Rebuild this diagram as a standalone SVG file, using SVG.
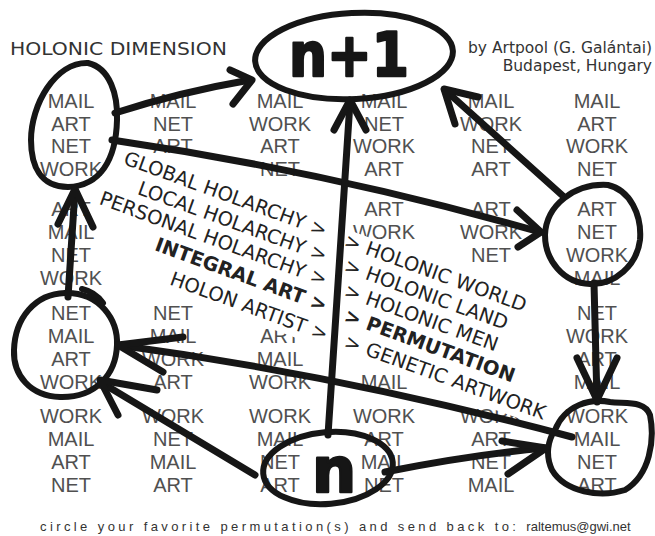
<svg xmlns="http://www.w3.org/2000/svg" width="655" height="536" viewBox="0 0 655 536">
<style>
.w{font-family:"Liberation Sans",Arial,sans-serif;font-size:20px;fill:#505050;text-anchor:middle}
.s{font-family:"DejaVu Sans",Verdana,sans-serif;font-size:19.5px;fill:#222}
.b{font-weight:bold}
.m{fill:#fff}
.hd{font-family:"DejaVu Sans",Verdana,sans-serif;fill:#333}
.ink{fill:none;stroke:#161616;stroke-linecap:round;stroke-linejoin:round}
.node{stroke-width:6}
.con{stroke-width:7}
.hand{font-family:"DejaVu Sans",sans-serif;font-weight:bold;fill:#161616;stroke:#161616;stroke-width:2.5;stroke-linejoin:round;text-anchor:middle}
</style>
<rect width="655" height="536" fill="#fff"/>

<g id="headings">
<text class="hd" x="10" y="55" font-size="18" textLength="217" lengthAdjust="spacingAndGlyphs">HOLONIC DIMENSION</text>
<text class="hd" x="652" y="53" font-size="15.5" text-anchor="end">by Artpool (G. Galántai)</text>
<text class="hd" x="652" y="71" font-size="15.5" text-anchor="end">Budapest, Hungary</text>
<text x="40" y="531" font-family="Liberation Sans, Arial, sans-serif" font-size="13" fill="#333"><tspan letter-spacing="3.4">circle your favorite permutation(s) and send back to: </tspan><tspan letter-spacing="0">raltemus@gwi.net</tspan></text>
</g>

<g id="word-grid" class="w">
<text x="71" y="108">MAIL</text><text x="71" y="130.5">ART</text><text x="71" y="153">NET</text><text x="71" y="175.5">WORK</text>
<text x="71" y="216">ART</text><text x="71" y="239">MAIL</text><text x="71" y="262">NET</text><text x="71" y="285">WORK</text>
<text x="71" y="320">NET</text><text x="71" y="343">MAIL</text><text x="71" y="366">ART</text><text x="71" y="389">WORK</text>
<text x="71" y="423">WORK</text><text x="71" y="446">MAIL</text><text x="71" y="469">ART</text><text x="71" y="492">NET</text>

<text x="173" y="108">MAIL</text><text x="173" y="130.5">NET</text><text x="173" y="153">ART</text>
<text x="173" y="320">NET</text><text x="173" y="343">MAIL</text><text x="173" y="366">WORK</text><text x="173" y="389">ART</text>
<text x="173" y="423">WORK</text><text x="173" y="446">NET</text><text x="173" y="469">MAIL</text><text x="173" y="492">ART</text>

<text x="280" y="108">MAIL</text><text x="280" y="130.5">WORK</text><text x="280" y="153">ART</text><text x="280" y="175.5">NET</text>
<text x="280" y="343">ART</text><text x="280" y="366">MAIL</text><text x="280" y="389">WORK</text>
<text x="280" y="423">WORK</text><text x="280" y="446">MAIL</text><text x="280" y="469">NET</text><text x="280" y="492">ART</text>

<text x="384" y="108">MAIL</text><text x="384" y="130.5">NET</text><text x="384" y="153">WORK</text><text x="384" y="175.5">ART</text>
<text x="384" y="216">ART</text><text x="384" y="239">WORK</text>
<text x="384" y="389">MAIL</text>
<text x="384" y="423">WORK</text><text x="384" y="446">ART</text><text x="384" y="469">MAIL</text><text x="384" y="492">NET</text>

<text x="491" y="108">MAIL</text><text x="491" y="130.5">WORK</text><text x="491" y="153">NET</text><text x="491" y="175.5">ART</text>
<text x="491" y="216">ART</text><text x="491" y="239">WORK</text><text x="491" y="262">NET</text>
<text x="491" y="423">WORK</text><text x="491" y="446">ART</text><text x="491" y="469">NET</text><text x="491" y="492">MAIL</text>

<text x="597" y="108">MAIL</text><text x="597" y="130.5">ART</text><text x="597" y="153">WORK</text><text x="597" y="175.5">NET</text>
<text x="597" y="216">ART</text><text x="597" y="239">NET</text><text x="597" y="262">WORK</text><text x="597" y="285">MAIL</text>
<text x="597" y="320">NET</text><text x="597" y="343">WORK</text><text x="597" y="366">ART</text><text x="597" y="389">MAIL</text>
<text x="597" y="423">WORK</text><text x="597" y="446">MAIL</text><text x="597" y="469">NET</text><text x="597" y="492">ART</text>
</g>

<g id="holarchy-list">
<g transform="translate(324,237) rotate(20)"><rect class="m" x="-222" y="-17" width="228" height="24"/><text class="s" text-anchor="end">GLOBAL HOLARCHY &gt;</text></g>
<g transform="translate(324,262) rotate(20)"><rect class="m" x="-207" y="-17" width="213" height="24"/><text class="s" text-anchor="end">LOCAL HOLARCHY &gt;</text></g>
<g transform="translate(324,286) rotate(20)"><rect class="m" x="-247" y="-17" width="253" height="24"/><text class="s" text-anchor="end">PERSONAL HOLARCHY &gt;</text></g>
<g transform="translate(324,312) rotate(20)"><rect class="m" x="-190" y="-17" width="196" height="26"/><text class="s b" text-anchor="end">INTEGRAL ART &gt;</text></g>
<g transform="translate(325,341) rotate(20)"><rect class="m" x="-174" y="-17" width="180" height="24"/><text class="s" text-anchor="end">HOLON ARTIST &gt;</text></g>
</g>

<g id="holonic-list">
<g transform="translate(343,246) rotate(20)"><rect class="m" x="-6" y="-17" width="205" height="24"/><text class="s">&gt; HOLONIC WORLD</text></g>
<g transform="translate(343,271) rotate(20)"><rect class="m" x="-6" y="-17" width="185" height="24"/><text class="s">&gt; HOLONIC LAND</text></g>
<g transform="translate(343,296) rotate(20)"><rect class="m" x="-6" y="-17" width="175" height="24"/><text class="s">&gt; HOLONIC MEN</text></g>
<g transform="translate(343,321) rotate(20)"><rect class="m" x="-6" y="-17" width="195" height="26"/><text class="s b">&gt; PERMUTATION</text></g>
<g transform="translate(343,347) rotate(20)"><rect class="m" x="-6" y="-17" width="220" height="24"/><text class="s">&gt; GENETIC ARTWORK</text></g>
</g>

<g id="node-n-plus-1">
<ellipse class="ink node" cx="354" cy="56" rx="99" ry="43" transform="rotate(-3 354 56)"/>
<text class="hand" x="349" y="76" font-size="60" textLength="120" lengthAdjust="spacingAndGlyphs">n+1</text>
</g>
<g id="node-n">
<ellipse class="ink node" cx="328" cy="468" rx="65" ry="36" transform="rotate(-5 328 468)"/>
<text class="hand" x="334" y="492" font-size="62">n</text>
</g>
<g id="node-top-left">
<path class="ink node" d="M88,63 C110,68 118,95 117,120 C116,160 100,186 68,187 C40,187 31,165 31,140 C31,105 55,62 88,63 Z"/>
</g>
<g id="node-mid-left">
<path class="ink node" d="M65,293 C100,292 118,320 117,345 C116,375 95,398 60,397 C30,396 13,375 14,350 C15,318 35,294 65,293 Z"/>
<path class="ink node" d="M82,289 Q95,292 103,303"/>
</g>
<g id="node-right-upper">
<path class="ink node" d="M608,185 C630,190 642,215 640,240 C637,265 615,285 590,284 C563,283 545,260 545,235 C546,205 575,183 608,185 Z"/>
</g>
<g id="node-right-lower">
<path class="ink node" d="M555,430 C565,405 590,398 610,402 C625,404 645,400 650,415 C655,440 650,475 625,490 C600,498 565,492 552,470 C545,455 548,440 555,430 Z"/>
</g>

<g id="connectors" class="ink con">
<path d="M115,113 Q180,92 250,80"/><path d="M230,70 L252,80 L233,104"/>
<path d="M112,140 Q330,172 540,232"/><path d="M517,210 L541,232 L518,247"/>
<path d="M563,196 L445,90"/><path d="M478,97 L444,89 L455,124"/>
<path d="M328,435 L350,102"/><path d="M334,130 L350,100 L366,130"/>
<path d="M255,475 L102,383"/><path d="M157,390 L100,380 L118,415"/>
<path d="M572,437 Q340,375 118,345"/><path d="M183,337 L118,345 L163,372"/>
<path d="M385,472 Q470,455 545,448"/><path d="M502,441 L546,448 L508,474"/>
<path d="M594,283 L597,402"/><path d="M577,358 L597,400 L617,358"/>
<path d="M68,297 L75,190"/><path d="M58,224 L75,189 L93,227"/>
</g>
</svg>
